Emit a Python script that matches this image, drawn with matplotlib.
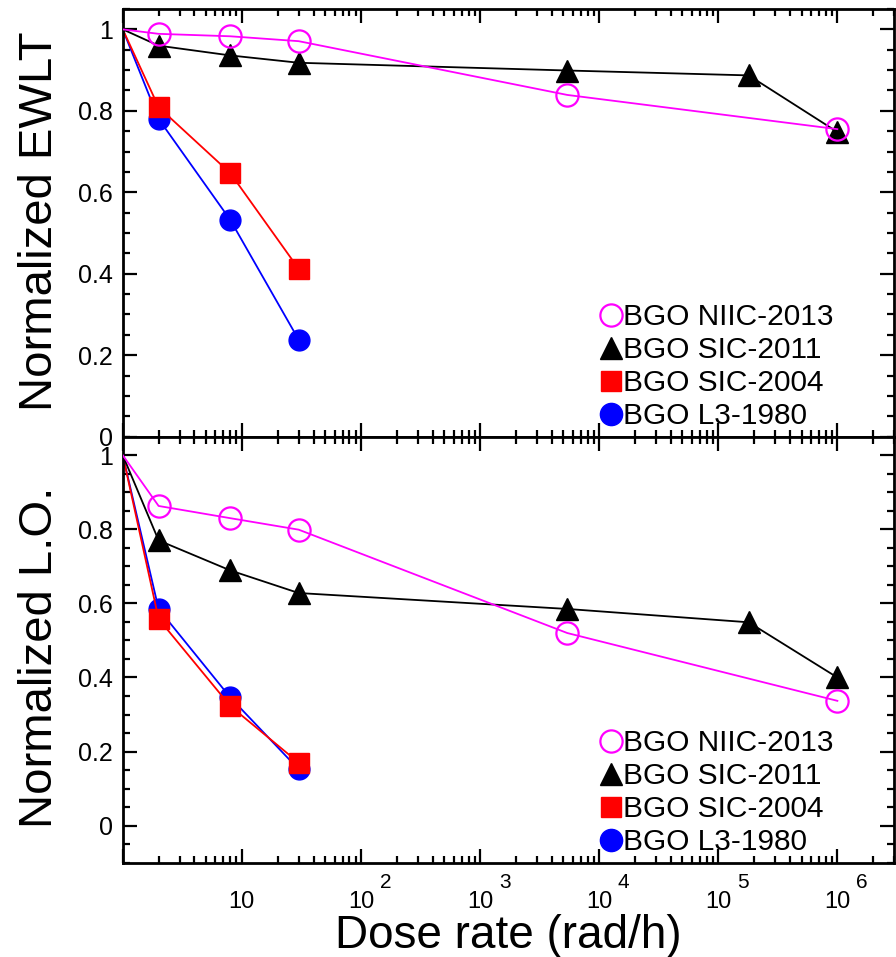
import numpy as np
import matplotlib
matplotlib.use("Agg")
import matplotlib.pyplot as plt
from matplotlib.lines import Line2D
from matplotlib.ticker import LogLocator, FuncFormatter, MultipleLocator, NullFormatter

plt.rcParams["font.family"] = ["Liberation Sans", "DejaVu Sans"]

# ── data (dose rate in rad/h) ────────────────────────────────────────────────
labels = ["BGO NIIC-2013", "BGO SIC-2011", "BGO SIC-2004", "BGO L3-1980"]

niic_x = [1, 2, 8, 30, 5.4e3, 1e6]
sic11_x = [1, 2, 8, 30, 5.4e3, 1.8e5, 1e6]
sic04_x = [1, 2, 8, 30]
l3_x = [1, 2, 8, 30]

# normalized EWLT
ewlt_niic = [1.0, 0.989, 0.983, 0.971, 0.839, 0.755]
ewlt_sic11 = [1.0, 0.960, 0.936, 0.918, 0.899, 0.887, 0.748]
ewlt_sic04 = [1.0, 0.809, 0.647, 0.412]
ewlt_l3 = [1.0, 0.780, 0.532, 0.238]

# normalized light output
lo_niic = [1.0, 0.863, 0.830, 0.799, 0.520, 0.337]
lo_sic11 = [1.0, 0.770, 0.689, 0.628, 0.585, 0.549, 0.400]
lo_sic04 = [1.0, 0.558, 0.323, 0.170]
lo_l3 = [1.0, 0.585, 0.346, 0.152]

MAG, RED, BLUE = "#ff00ff", "#ff0000", "#0000ff"


def xfmt(v, pos):
    return "10" if v > 5 else ""


def style(ax, ylim, show_x):
    ax.set_xscale("log")
    ax.set_xlim(1, 3e6)
    ax.set_ylim(*ylim)
    ax.xaxis.set_major_locator(LogLocator(base=10, numticks=12))
    ax.xaxis.set_minor_locator(LogLocator(base=10, subs=np.arange(2, 10), numticks=12))
    ax.xaxis.set_minor_formatter(NullFormatter())
    ax.xaxis.set_major_formatter(FuncFormatter(xfmt) if show_x else NullFormatter())
    ax.yaxis.set_major_locator(MultipleLocator(0.2))
    ax.yaxis.set_minor_locator(MultipleLocator(0.05))
    ax.yaxis.set_major_formatter(FuncFormatter(lambda v, p: "%g" % round(v, 2)))
    ax.tick_params(which="both", direction="in", top=True, right=True, width=1.6)
    ax.tick_params(which="major", length=10)
    ax.tick_params(which="minor", length=5)
    ax.tick_params(axis="y", labelsize=18, pad=7)
    ax.tick_params(axis="x", labelsize=17, pad=20)
    for s in ax.spines.values():
        s.set_linewidth(2)


def draw(ax, ys):
    ax.plot(niic_x, ys[0], color=MAG, lw=1.3, marker="o", ms=16,
            mfc="none", mec=MAG, mew=1.6, markevery=list(range(1, len(niic_x))), zorder=4)
    ax.plot(sic11_x, ys[1], color="black", lw=1.3, marker="^", ms=16,
            markevery=list(range(1, len(sic11_x))), zorder=3)
    ax.plot(l3_x, ys[3], color=BLUE, lw=1.3, marker="o", ms=15,
            markevery=[1, 2, 3], zorder=2)
    ax.plot(sic04_x, ys[2], color=RED, lw=1.3, marker="s", ms=14,
            markevery=[1, 2, 3], zorder=2)
    handles = [
        Line2D([], [], ls="none", marker="o", ms=16, mfc="none", mec=MAG, mew=1.6),
        Line2D([], [], ls="none", marker="^", ms=16, color="black"),
        Line2D([], [], ls="none", marker="s", ms=15, color=RED),
        Line2D([], [], ls="none", marker="o", ms=16, color=BLUE),
    ]
    ax.legend(handles, labels, loc="lower left", bbox_to_anchor=(0.618, 0.015),
              frameon=False, fontsize=21.5, handlelength=0.75, handletextpad=0.02,
              labelspacing=0.17, borderpad=0, borderaxespad=0)


fig = plt.figure(figsize=(8.96, 9.57), dpi=100)
ax1 = fig.add_axes([0.137, 0.5437, 0.861, 0.4469])
ax2 = fig.add_axes([0.137, 0.0985, 0.861, 0.4452])

draw(ax1, [ewlt_niic, ewlt_sic11, ewlt_sic04, ewlt_l3])
draw(ax2, [lo_niic, lo_sic11, lo_sic04, lo_l3])
style(ax1, (0, 1.05), False)
style(ax2, (-0.1, 1.05), True)

# exponents of the 10^n tick labels
for n in range(2, 7):
    ax2.annotate(str(n), xy=(10.0 ** n, 0), xycoords=("data", "axes fraction"),
                 xytext=(13.5, -18.5), textcoords="offset points",
                 fontsize=15, ha="left", va="baseline")

ax1.set_ylabel("Normalized EWLT", fontsize=34)
ax2.set_ylabel("Normalized L.O.", fontsize=34)
ax1.yaxis.set_label_coords(-0.079, 0.505)
ax2.yaxis.set_label_coords(-0.079, 0.482)
ax2.set_xlabel("Dose rate (rad/h)", fontsize=33)
ax2.xaxis.set_label_coords(0.5, -0.12)

fig.savefig("out.png", dpi=100)
